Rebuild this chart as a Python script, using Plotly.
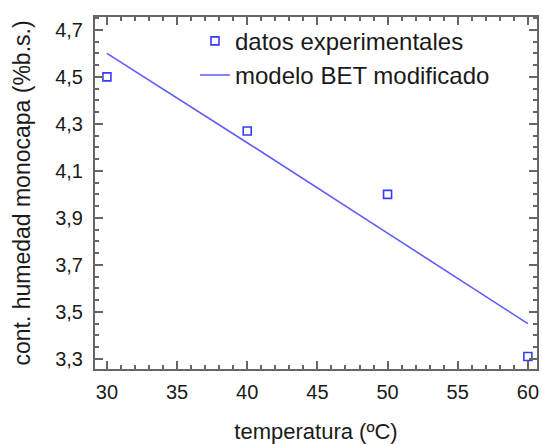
import plotly.graph_objects as go

temp_exp = [30, 40, 50, 60]
hum_exp = [4.50, 4.27, 4.00, 3.31]

temp_model = [30, 40, 50, 60]
hum_model = [4.60, 4.22, 3.835, 3.45]

x_ticks = [30, 35, 40, 45, 50, 55, 60]
y_ticks = [3.3, 3.5, 3.7, 3.9, 4.1, 4.3, 4.5, 4.7]

FONT = "Liberation Sans, Arial"

fig = go.Figure()
fig.add_trace(go.Scatter(
    x=temp_exp, y=hum_exp, mode="markers", name="datos experimentales",
    marker=dict(symbol="square-open", size=8, color="#3a3aff", line=dict(width=1.6)),
))
fig.add_trace(go.Scatter(
    x=temp_model, y=hum_model, mode="lines", name="modelo BET modificado",
    line=dict(color="#5c5cff", width=1.6),
))

axis_common = dict(
    showline=True, linecolor="#666666", linewidth=2, mirror="ticks",
    ticks="inside", ticklen=8, tickwidth=1.5, tickcolor="#666666",
    showgrid=False, zeroline=False, automargin=False,
    tickfont=dict(family=FONT, size=20, color="#1a1a1a"),
)

fig.update_xaxes(
    range=[29.15, 60.65], tickvals=x_ticks,
    minor=dict(ticks="inside", ticklen=4, dtick=1, tickcolor="#666666", tickwidth=1.5),
    ticklabelstandoff=4,
    title=dict(text="temperatura (ºC)", font=dict(family=FONT, size=22, color="#1a1a1a"), standoff=22),
    **axis_common,
)
fig.update_yaxes(
    range=[3.257, 4.755], tickvals=y_ticks, ticktext=[f"{v:.1f}".replace(".", ",") for v in y_ticks],
    minor=dict(ticks="inside", ticklen=4, dtick=0.05, tick0=3.3, tickcolor="#666666", tickwidth=1.5),
    ticklabelstandoff=6,
    title=dict(text="cont. humedad monocapa (%b.s.)", font=dict(family=FONT, size=23, color="#1a1a1a"), standoff=18),
    **axis_common,
)

fig.update_layout(
    width=542, height=444,
    margin=dict(l=95, r=5, t=17, b=75),
    plot_bgcolor="white", paper_bgcolor="white",
    showlegend=True,
    legend=dict(
        x=(195 - 95) / 442, y=0.995, xanchor="left", yanchor="top",
        bgcolor="rgba(0,0,0,0)",
        font=dict(family=FONT, size=24, color="#1a1a1a"),
        itemwidth=30, tracegroupgap=0,
    ),
)

fig.write_html("out.html", config={"displayModeBar": False})

with open("out.html", "r", encoding="utf-8") as f:
    html = f.read()
html = html.replace("<head>", "<head><style>html,body{margin:0;padding:0;overflow:hidden;}</style>", 1)
with open("out.html", "w", encoding="utf-8") as f:
    f.write(html)
